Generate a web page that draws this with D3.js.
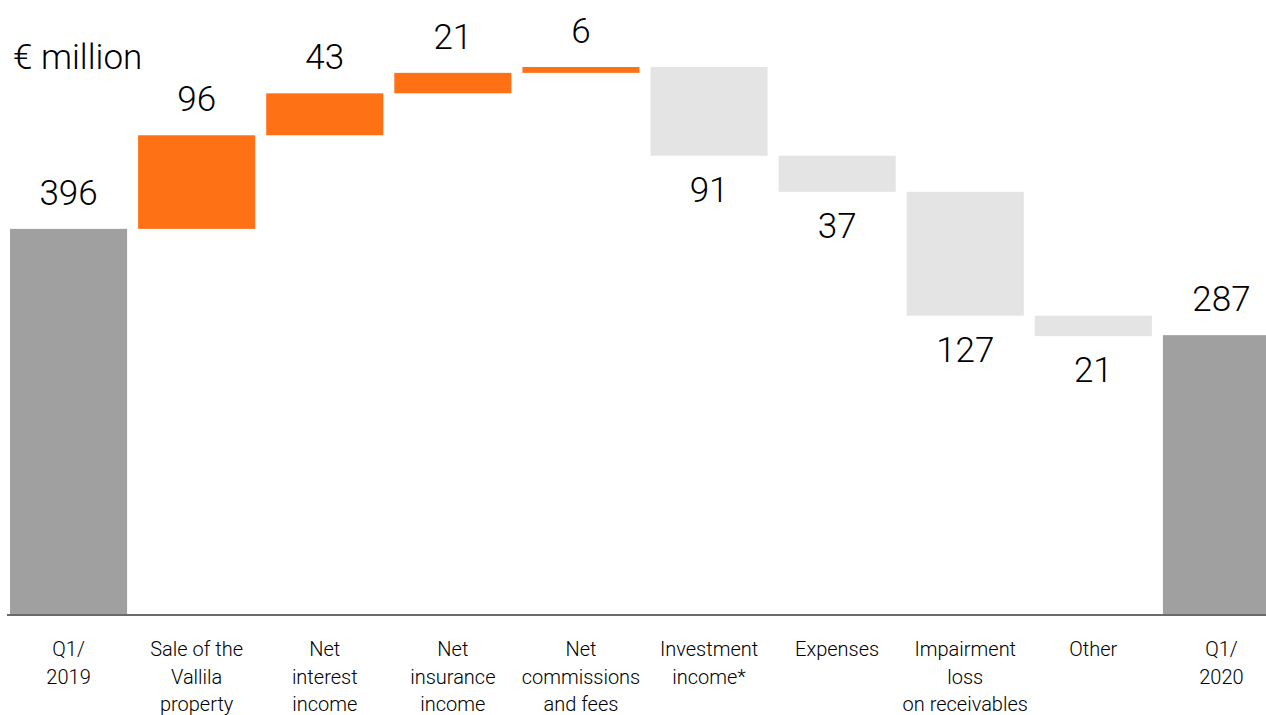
<!DOCTYPE html>
<html>
<head>
<meta charset="utf-8">
<script src="https://cdn.jsdelivr.net/npm/d3@7"></script>
<style>
  html, body { margin: 0; padding: 0; background: #fff; overflow: hidden; }
  svg { display: block; font-family: Roboto, "Noto Sans", sans-serif; }
</style>
</head>
<body>
<svg id="chart" width="1266" height="715"></svg>
<script>
// Waterfall of operating profit bridge, € million
const categories = [
  ["Q1/", "2019"],
  ["Sale of the", "Vallila", "property"],
  ["Net", "interest", "income"],
  ["Net", "insurance", "income"],
  ["Net", "commissions", "and fees"],
  ["Investment", "income*"],
  ["Expenses"],
  ["Impairment", "loss", "on receivables"],
  ["Other"],
  ["Q1/", "2020"]
];
const startTotal = 396;
const changes = [96, 43, 21, 6, -91, -37, -127, -21];
const endTotal = 287;
const unitLabel = "€ million";

const colors = { total: "#a0a0a0", up: "#ff7114", down: "#e4e4e4" };

// Build the running steps
const steps = [];
steps.push({ i: 0, y0: 0, y1: startTotal, value: startTotal, type: "total" });
let running = startTotal;
changes.forEach((c, k) => {
  const from = running;
  running += c;
  steps.push({ i: k + 1, y0: Math.min(from, running), y1: Math.max(from, running),
               value: Math.abs(c), type: c >= 0 ? "up" : "down" });
});
steps.push({ i: categories.length - 1, y0: 0, y1: endTotal, value: endTotal, type: "total" });

const svg = d3.select("#chart");

const x = d3.scaleBand()
  .domain(d3.range(categories.length))
  .range([4.5, 1285.5])
  .paddingInner(0.086)
  .paddingOuter(0.043);

const yMax = d3.max(steps, d => d.y1);
const y = d3.scaleLinear().domain([0, yMax]).range([615, 67]);

// Bars
svg.append("g").selectAll("rect")
  .data(steps)
  .join("rect")
  .attr("x", d => x(d.i))
  .attr("width", x.bandwidth())
  .attr("y", d => y(d.y1))
  .attr("height", d => Math.max(1, y(d.y0) - y(d.y1)))
  .attr("fill", d => colors[d.type]);

// Baseline
svg.append("line")
  .attr("x1", 7).attr("x2", 1266)
  .attr("y1", y(0)).attr("y2", y(0))
  .attr("stroke", "#6a6a6a").attr("stroke-width", 2);

// Value labels: above for totals and increases, below for decreases
svg.append("g").selectAll("text")
  .data(steps)
  .join("text")
  .attr("x", d => x(d.i) + x.bandwidth() / 2)
  .attr("y", d => d.type === "down" ? y(d.y0) + 46 : y(d.y1) - 24)
  .attr("text-anchor", "middle")
  .attr("font-size", 35)
  .attr("font-weight", 300)
  .attr("fill", "#000")
  .text(d => d.value);

// Category labels
const catG = svg.append("g");
categories.forEach((lines, i) => {
  const t = catG.append("text")
    .attr("x", x(i) + x.bandwidth() / 2)
    .attr("y", 656)
    .attr("text-anchor", "middle")
    .attr("font-size", 20)
    .attr("font-weight", 300)
    .attr("fill", "#000");
  lines.forEach((ln, j) => {
    t.append("tspan")
      .attr("x", x(i) + x.bandwidth() / 2)
      .attr("dy", j === 0 ? 0 : 27.5)
      .text(ln);
  });
});

// Unit label
svg.append("text")
  .attr("x", 13).attr("y", 69)
  .attr("font-size", 35)
  .attr("font-weight", 300)
  .attr("fill", "#000")
  .text(unitLabel);
</script>
</body>
</html>
